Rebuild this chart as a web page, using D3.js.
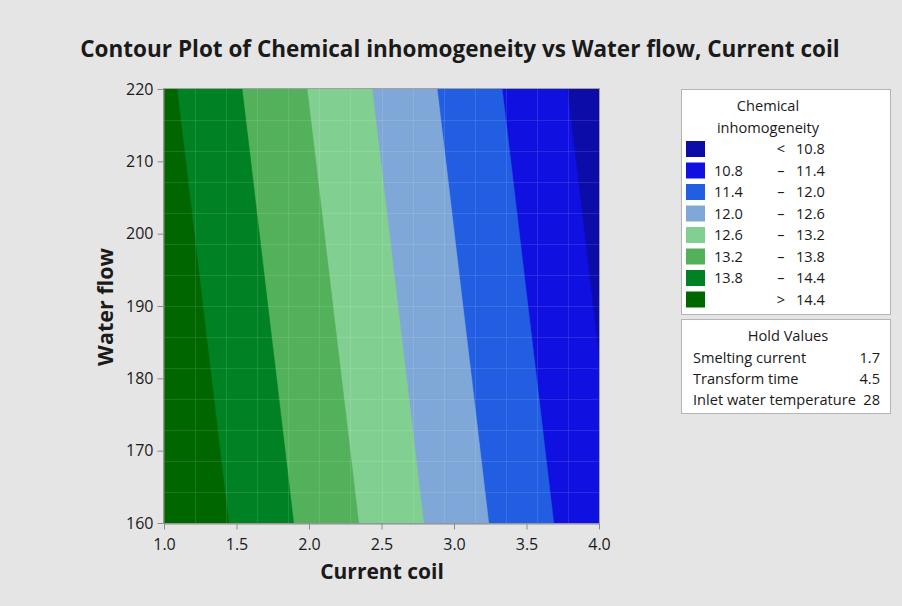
<!DOCTYPE html>
<html>
<head>
<meta charset="utf-8">
<script src="https://cdn.jsdelivr.net/npm/d3@7"></script>
<style>
  body { margin: 0; background: #e5e5e5; }
  svg { display: block; }
  text { font-family: "Open Sans", "Noto Sans", sans-serif; fill: #1a1a1a; }
</style>
</head>
<body>
<svg id="chart" width="902" height="606"></svg>
<script>
// Grid of fitted response values: rows follow waterFlow, columns follow currentCoil
const currentCoil = [1.0, 1.5, 2.0, 2.5, 3.0, 3.5, 4.0];
const waterFlow = [160, 170, 180, 190, 200, 210, 220];
const inhomogeneity = [
  [14.996, 14.327, 13.658, 12.989, 12.320, 11.651, 10.982],
  [14.917, 14.248, 13.579, 12.910, 12.241, 11.572, 10.903],
  [14.838, 14.169, 13.500, 12.831, 12.162, 11.493, 10.824],
  [14.758, 14.089, 13.420, 12.751, 12.082, 11.413, 10.744],
  [14.679, 14.010, 13.341, 12.672, 12.003, 11.334, 10.665],
  [14.600, 13.931, 13.262, 12.593, 11.924, 11.255, 10.586],
  [14.520, 13.851, 13.182, 12.513, 11.844, 11.175, 10.506]
];
const levels = [10.8, 11.4, 12.0, 12.6, 13.2, 13.8, 14.4];
const bandColors = ["#0c0ca8", "#1010e0", "#225ee2", "#7fa7d8", "#82cf92", "#53b15c", "#008224", "#006600"];
const bandLabels = [
  ["", "<", "10.8"], ["10.8", "–", "11.4"], ["11.4", "–", "12.0"], ["12.0", "–", "12.6"],
  ["12.6", "–", "13.2"], ["13.2", "–", "13.8"], ["13.8", "–", "14.4"], ["", ">", "14.4"]
];
const xTicks = [1.0, 1.5, 2.0, 2.5, 3.0, 3.5, 4.0];
const yTicks = [160, 170, 180, 190, 200, 210, 220];
const holdNames = ["Smelting current", "Transform time", "Inlet water temperature"];
const holdValues = ["1.7", "4.5", "28"];

const svg = d3.select("#chart");
const W = 902, H = 606;
const plot = { left: 164, right: 599, top: 89, bottom: 523 };
const legendFont = "14.6px";

svg.append("rect").attr("width", W).attr("height", H).attr("fill", "#e5e5e5");

const x = d3.scaleLinear().domain([1, 4]).range([plot.left, plot.right]);
const y = d3.scaleLinear().domain([160, 220]).range([plot.bottom, plot.top]);

// Title
svg.append("text")
  .attr("x", 460).attr("y", 57)
  .attr("text-anchor", "middle")
  .style("font-size", "22.5px").style("font-weight", "700")
  .text("Contour Plot of Chemical inhomogeneity vs Water flow, Current coil");

// Filled contour bands
svg.append("clipPath").attr("id", "plotClip")
  .append("rect")
  .attr("x", plot.left).attr("y", plot.top)
  .attr("width", plot.right - plot.left).attr("height", plot.bottom - plot.top);

const nx = currentCoil.length, ny = waterFlow.length;
const flat = inhomogeneity.flat();
const stepX = currentCoil[1] - currentCoil[0];
const stepY = waterFlow[1] - waterFlow[0];
const gridToScreen = d3.geoTransform({
  point(gx, gy) {
    this.stream.point(
      x(currentCoil[0] + (gx - 0.5) * stepX),
      y(waterFlow[0] + (gy - 0.5) * stepY)
    );
  }
});
const path = d3.geoPath(gridToScreen);
const bands = d3.contours().size([nx, ny]).smooth(true).thresholds(levels)(flat);

const gPlot = svg.append("g").attr("clip-path", "url(#plotClip)");
gPlot.append("rect")
  .attr("x", plot.left).attr("y", plot.top)
  .attr("width", plot.right - plot.left).attr("height", plot.bottom - plot.top)
  .attr("fill", bandColors[0]);
gPlot.selectAll("path.band").data(bands).join("path")
  .attr("class", "band")
  .attr("d", path)
  .attr("fill", (d, i) => bandColors[i + 1])
  .attr("stroke", (d, i) => bandColors[i + 1])
  .attr("stroke-width", 0.6);

// Faint mesh seams of the rendered surface
const mesh = d3.range(15);
const meshX = d3.scaleLinear().domain([0, 14]).range([plot.left, plot.right]);
const meshY = d3.scaleLinear().domain([0, 14]).range([plot.top, plot.bottom]);
const gMesh = gPlot.append("g")
  .attr("stroke", "#ffffff").attr("stroke-opacity", 0.11).attr("stroke-width", 1)
  .attr("shape-rendering", "crispEdges");
gMesh.selectAll("line.v").data(mesh.slice(1, 14)).join("line").attr("class", "v")
  .attr("x1", d => Math.round(meshX(d)) + 0.5).attr("x2", d => Math.round(meshX(d)) + 0.5)
  .attr("y1", plot.top).attr("y2", plot.bottom);
gMesh.selectAll("line.h").data(mesh.slice(1, 14)).join("line").attr("class", "h")
  .attr("y1", d => Math.round(meshY(d)) + 0.5).attr("y2", d => Math.round(meshY(d)) + 0.5)
  .attr("x1", plot.left).attr("x2", plot.right);

// Plot frame
svg.append("rect")
  .attr("x", plot.left - 0.5).attr("y", plot.top - 0.5)
  .attr("width", plot.right - plot.left + 1).attr("height", plot.bottom - plot.top + 1)
  .attr("fill", "none").attr("stroke", "#a0a0a0").attr("stroke-width", 1);

// Axes
const axisColor = "#8c8c8c";
const xAxis = svg.append("g")
  .attr("transform", `translate(0,${plot.bottom + 0.5})`)
  .call(d3.axisBottom(x).tickValues(xTicks).tickFormat(d3.format(".1f")).tickSize(6).tickSizeOuter(0).tickPadding(9));
const yAxis = svg.append("g")
  .attr("transform", `translate(${plot.left - 0.5},0)`)
  .call(d3.axisLeft(y).tickValues(yTicks).tickFormat(d3.format("d")).tickSize(6).tickSizeOuter(0).tickPadding(4));
[xAxis, yAxis].forEach(g => {
  g.select(".domain").attr("stroke", axisColor);
  g.selectAll(".tick line").attr("stroke", axisColor);
  g.selectAll(".tick text")
    .style("font-family", '"Open Sans", "Noto Sans", sans-serif')
    .style("font-size", "16px").attr("fill", "#1a1a1a");
});

svg.append("text")
  .attr("x", 382).attr("y", 579)
  .attr("text-anchor", "middle")
  .style("font-size", "21px").style("font-weight", "700")
  .text("Current coil");
svg.append("text")
  .attr("transform", `translate(113,${(plot.top + plot.bottom) / 2 + 1}) rotate(-90)`)
  .attr("text-anchor", "middle")
  .style("font-size", "21.5px").style("font-weight", "700")
  .text("Water flow");

// Legend of contour bands
const lg = svg.append("g");
lg.append("rect")
  .attr("x", 681.5).attr("y", 89.5).attr("width", 209).attr("height", 225)
  .attr("fill", "#ffffff").attr("stroke", "#b4b4b4");
lg.append("text").attr("x", 768).attr("y", 111).attr("text-anchor", "middle")
  .style("font-size", legendFont).text("Chemical");
lg.append("text").attr("x", 768).attr("y", 133).attr("text-anchor", "middle")
  .style("font-size", legendFont).text("inhomogeneity");
const rows = lg.selectAll("g.row").data(d3.range(bandColors.length)).join("g")
  .attr("class", "row")
  .attr("transform", i => `translate(0,${154.3 + i * 21.5})`);
rows.append("rect")
  .attr("x", 686).attr("y", -13.3).attr("width", 19).attr("height", 16)
  .attr("fill", i => bandColors[i]);
rows.append("text").attr("x", 714).style("font-size", legendFont).text(i => bandLabels[i][0]);
rows.append("text").attr("x", 781).attr("text-anchor", "middle").style("font-size", legendFont).text(i => bandLabels[i][1]);
rows.append("text").attr("x", 796).style("font-size", legendFont).text(i => bandLabels[i][2]);

// Hold values box
const hv = svg.append("g");
hv.append("rect")
  .attr("x", 681.5).attr("y", 319.5).attr("width", 209).attr("height", 94)
  .attr("fill", "#ffffff").attr("stroke", "#b4b4b4");
hv.append("text").attr("x", 788).attr("y", 341).attr("text-anchor", "middle")
  .style("font-size", legendFont).text("Hold Values");
holdNames.forEach((name, i) => {
  hv.append("text").attr("x", 693).attr("y", 363 + i * 21.2).style("font-size", legendFont).text(name);
  hv.append("text").attr("x", 880).attr("y", 363 + i * 21.2).attr("text-anchor", "end")
    .style("font-size", legendFont).text(holdValues[i]);
});
</script>
</body>
</html>
